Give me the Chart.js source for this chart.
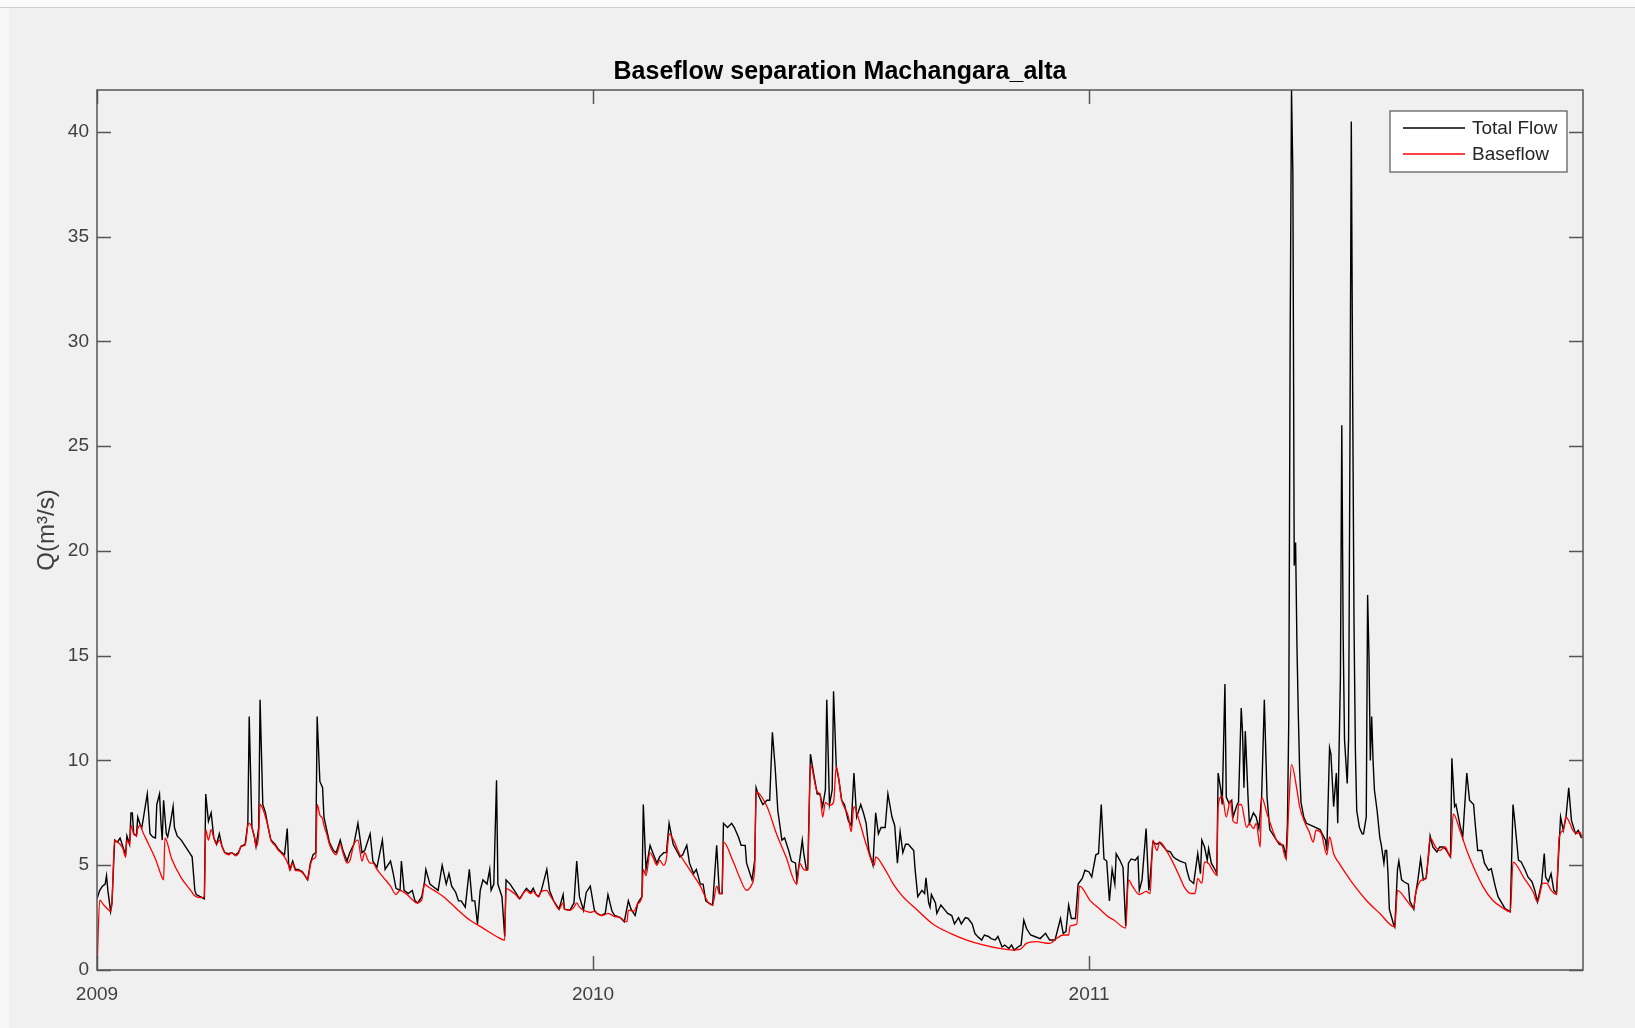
<!DOCTYPE html>
<html lang="en">

<head>
    <meta charset="UTF-8">
    <meta name="viewport" content="width=device-width, initial-scale=1.0">
    <title>Baseflow separation Machangara_alta</title>

    <!--Chart.js-->
    <script src="https://cdn.jsdelivr.net/npm/chart.js"></script>

    <style>
        body {
            margin: 0;
            background: #f0f0f0;
        }

        .topo {
            position: absolute;
            left: 0;
            top: 0;
            width: 1635px;
            height: 7px;
            background: #fafafa;
            border-bottom: 1px solid #cfcfcf;
        }

        .lado {
            position: absolute;
            left: 0;
            top: 8px;
            width: 9px;
            height: 1020px;
            background: #f7f7f7;
        }

        .grafico {
            position: absolute;
            left: 0;
            top: 0;
            width: 1635px;
            height: 1028px;
        }
    </style>
</head>

<body>

    <div class="topo"></div>
    <div class="lado"></div>

    <div class="grafico">
        <canvas id="myChart"></canvas>
    </div>

<script>

// days since 2009-01-01 and flow values
const totalDays = [0, 2, 4, 6, 7, 8, 10, 11, 13, 15, 17, 19, 21, 22, 24, 25, 26, 27, 29, 30, 32, 33, 35, 37, 38, 39, 41, 43, 44, 46, 47, 48, 49, 51, 52, 54, 56, 57, 59, 62, 65, 68, 70, 72, 73, 76, 79, 80, 82, 84, 86, 88, 90, 92, 94, 97, 99, 102, 104, 106, 109, 111, 112, 114, 116, 117, 119, 120, 122, 124, 126, 128, 131, 133, 136, 138, 140, 141, 142, 144, 146, 148, 151, 153, 155, 157, 159, 161, 162, 164, 166, 167, 169, 171, 174, 176, 179, 181, 184, 186, 189, 192, 195, 197, 201, 203, 206, 210, 212, 216, 218, 220, 223, 224, 226, 229, 232, 234, 236, 239, 241, 242, 245, 247, 251, 254, 257, 259, 261, 264, 266, 268, 271, 274, 276, 278, 280, 282, 284, 287, 289, 290, 292, 294, 295, 298, 300, 301, 304, 308, 311, 314, 316, 319, 321, 323, 325, 327, 331, 333, 336, 340, 343, 344, 348, 351, 353, 355, 358, 360, 363, 366, 368, 371, 374, 376, 379, 381, 385, 388, 391, 393, 396, 398, 401, 402, 404, 407, 409, 412, 414, 417, 419, 421, 424, 429, 431, 434, 436, 439, 441, 444, 446, 448, 450, 453, 456, 458, 460, 461, 464, 467, 469, 472, 474, 477, 478, 482, 484, 485, 487, 490, 493, 495, 497, 499, 501, 504, 506, 509, 511, 514, 515, 517, 519, 520, 522, 523, 525, 527, 530, 532, 534, 536, 537, 539, 541, 542, 544, 546, 548, 550, 553, 555, 557, 559, 562, 564, 566, 568, 571, 573, 575, 577, 580, 582, 585, 587, 589, 591, 593, 595, 597, 601, 602, 604, 607, 609, 610, 612, 613, 614, 617, 618, 621, 624, 626, 629, 631, 634, 636, 639, 641, 644, 646, 648, 651, 653, 656, 658, 661, 663, 666, 668, 671, 673, 675, 678, 680, 682, 684, 687, 690, 694, 698, 701, 705, 709, 711, 713, 715, 717, 720, 722, 725, 727, 730, 732, 735, 737, 739, 741, 743, 745, 747, 749, 750, 753, 755, 757, 759, 761, 764, 766, 767, 769, 772, 774, 775, 777, 780, 782, 785, 787, 790, 792, 794, 797, 801, 802, 804, 807, 809, 810, 812, 813, 815, 817, 818, 820, 823, 824, 825, 827, 828, 830, 831, 833, 835, 836, 839, 840, 842, 843, 844, 845, 847, 848, 851, 853, 855, 857, 859, 861, 863, 866, 868, 870, 873, 875, 876, 877, 878, 879, 880, 881, 882, 883, 884, 885, 886, 888, 890, 895, 900, 904, 905, 907, 908, 910, 912, 913, 915, 916, 917, 918, 920, 921, 922, 923, 924, 925, 926, 927, 929, 931, 932, 934, 935, 936, 937, 938, 939, 940, 942, 944, 945, 947, 948, 949, 950, 951, 954, 955, 957, 958, 960, 962, 965, 966, 969, 970, 972, 974, 976, 978, 980, 981, 983, 986, 988, 991, 993, 996, 997, 999, 1000, 1003, 1005, 1008, 1010, 1013, 1014, 1016, 1019, 1021, 1024, 1026, 1029, 1031, 1034, 1036, 1038, 1040, 1042, 1043, 1046, 1048, 1051, 1053, 1056, 1058, 1060, 1063, 1065, 1066, 1068, 1070, 1072, 1074, 1075, 1077, 1079, 1081, 1083, 1085, 1088, 1090, 1092, 1093];
const totalQ = [3.4, 3.8, 4.0, 4.1, 4.5, 3.8, 2.8, 3.2, 6.2, 6.1, 6.3, 5.9, 5.5, 6.4, 6.0, 7.5, 7.5, 6.5, 6.4, 7.3, 6.9, 6.8, 7.6, 8.4, 7.5, 6.5, 6.35, 6.3, 7.9, 8.4, 7.1, 6.2, 8.1, 6.5, 6.35, 7.0, 7.8, 6.8, 6.4, 6.2, 5.9, 5.6, 5.4, 3.8, 3.6, 3.5, 3.4, 8.4, 7.1, 7.5, 6.3, 6.0, 6.5, 5.9, 5.6, 5.55, 5.6, 5.5, 5.6, 5.9, 6.0, 7.0, 12.1, 6.8, 6.3, 5.9, 6.8, 12.9, 7.9, 7.5, 6.8, 6.2, 6.0, 5.8, 5.6, 5.5, 6.75, 5.1, 4.8, 5.2, 4.8, 4.8, 4.7, 4.5, 4.3, 5.1, 5.5, 5.6, 12.1, 9.0, 8.7, 7.3, 6.7, 6.1, 5.7, 5.6, 6.2, 5.7, 5.2, 5.6, 6.0, 7.0, 5.6, 5.7, 6.5, 5.2, 4.9, 6.2, 4.8, 5.2, 4.6, 3.9, 3.8, 5.2, 3.8, 3.65, 3.8, 3.3, 3.2, 3.5, 4.2, 4.8, 4.1, 4.0, 3.8, 5.0, 4.1, 4.6, 4.0, 3.7, 3.3, 3.3, 3.0, 4.8, 3.3, 3.3, 2.2, 3.8, 4.3, 4.1, 4.8, 3.8, 4.1, 9.05, 4.1, 3.5, 1.6, 4.3, 4.1, 3.7, 3.4, 3.7, 3.9, 3.7, 3.9, 3.6, 3.5, 3.8, 4.8, 3.8, 3.3, 2.9, 3.6, 2.9, 2.85, 3.2, 5.2, 3.5, 2.85, 3.7, 4.0, 2.85, 2.7, 2.6, 2.7, 3.6, 2.8, 2.6, 2.5, 2.3, 3.3, 2.9, 2.6, 3.2, 3.5, 7.9, 4.8, 5.95, 5.6, 5.1, 5.4, 5.6, 5.6, 7.0, 6.0, 5.4, 5.5, 5.95, 5.1, 4.6, 4.8, 4.1, 4.1, 3.3, 3.2, 3.1, 5.95, 3.65, 3.65, 7.0, 6.8, 7.0, 6.8, 6.35, 5.95, 5.95, 5.1, 4.3, 5.25, 8.7, 8.3, 7.9, 8.1, 8.1, 11.35, 9.7, 7.6, 6.2, 6.3, 5.7, 5.2, 5.1, 4.3, 5.2, 6.2, 5.6, 4.8, 4.8, 10.3, 9.5, 8.4, 8.4, 7.8, 8.6, 12.9, 7.9, 8.6, 13.3, 9.7, 9.05, 8.1, 7.9, 7.1, 6.9, 9.4, 7.3, 7.9, 7.5, 7.0, 5.7, 5.0, 7.5, 6.5, 6.8, 6.8, 8.4, 7.3, 6.9, 5.1, 6.6, 5.6, 6.0, 6.0, 5.7, 4.8, 3.5, 3.8, 3.65, 4.4, 3.2, 3.0, 3.6, 3.2, 2.7, 3.1, 2.86, 2.7, 2.6, 2.2, 2.5, 2.2, 2.5, 2.46, 2.2, 1.75, 1.6, 1.43, 1.67, 1.6, 1.5, 1.43, 1.6, 1.1, 1.19, 1.03, 1.19, 0.95, 1.11, 1.19, 2.38, 1.98, 1.67, 1.6, 1.5, 1.75, 1.43, 1.43, 2.46, 1.75, 1.83, 3.1, 2.46, 2.46, 4.1, 4.37, 4.76, 4.68, 4.44, 5.5, 5.56, 7.9, 5.3, 5.2, 3.3, 4.8, 4.1, 5.55, 5.2, 4.9, 2.1, 5.1, 5.3, 5.24, 5.4, 3.8, 4.3, 6.75, 3.8, 4.4, 6.1, 6.0, 6.1, 5.87, 5.71, 5.63, 5.4, 5.3, 5.2, 5.1, 4.76, 4.3, 4.13, 5.08, 5.56, 4.6, 6.2, 5.87, 5.24, 5.79, 5.1, 4.76, 4.6, 9.4, 8.6, 7.9, 13.65, 8.25, 7.95, 8.1, 7.3, 7.9, 8.0, 12.5, 11.3, 8.7, 11.4, 8.25, 7.0, 7.5, 7.3, 6.75, 8.25, 12.9, 8.25, 6.7, 6.4, 6.2, 6.0, 5.95, 5.4, 7.0, 12.0, 30.0, 42, 38.0, 19.3, 20.4, 15.5, 12.2, 9.5, 8.0, 7.3, 7.0, 6.85, 6.7, 6.2, 5.7, 10.6, 10.3, 7.8, 9.4, 7.0, 14, 26, 16, 11, 8.9, 11, 25, 40.5, 27.5, 16.5, 10.5, 7.6, 6.8, 6.5, 6.5, 7.3, 17.9, 15, 10, 12.1, 10, 8.6, 7.6, 6.3, 6.0, 5.1, 5.7, 5.7, 4.6, 2.9, 2.2, 2.06, 4.8, 5.2, 4.3, 4.2, 4.1, 3.3, 2.9, 3.5, 4.3, 5.3, 4.3, 4.4, 5.55, 6.4, 5.87, 5.63, 5.87, 5.87, 5.71, 5.4, 10.1, 7.8, 7.9, 6.9, 6.35, 9.4, 8.1, 7.9, 7.1, 5.7, 5.7, 5.1, 4.76, 4.84, 3.97, 3.5, 3.17, 2.94, 2.86, 2.78, 7.9, 7.3, 5.24, 5.16, 4.76, 4.44, 4.21, 3.81, 3.25, 4.13, 5.56, 4.44, 4.21, 4.6, 3.81, 3.65, 4.84, 7.3, 6.67, 7.3, 8.7, 7.14, 6.51, 6.67, 6.35, 6.3];

const baseDays = [0, 2, 5, 8, 10, 11, 13, 15, 17, 19, 21, 22, 24, 25, 27, 29, 30, 32, 33, 38, 43, 48, 49, 50, 55, 62, 70, 71, 73, 76, 79, 80, 82, 84, 86, 88, 90, 92, 94, 97, 99, 102, 104, 106, 109, 111, 112, 114, 116, 117, 119, 120, 122, 124, 126, 128, 131, 133, 136, 138, 141, 142, 144, 146, 148, 151, 153, 155, 157, 159, 161, 162, 164, 166, 167, 169, 171, 174, 176, 179, 181, 184, 186, 189, 192, 195, 197, 199, 201, 203, 206, 211, 216, 220, 223, 228, 233, 235, 239, 241, 243, 248, 255, 265, 274, 284, 294, 300, 301, 304, 308, 311, 314, 316, 319, 321, 323, 325, 327, 331, 333, 336, 340, 343, 344, 348, 351, 353, 355, 358, 360, 363, 366, 368, 371, 374, 376, 381, 385, 388, 390, 391, 395, 398, 401, 402, 404, 407, 409, 412, 414, 417, 419, 421, 429, 436, 444, 450, 453, 456, 458, 460, 461, 468, 473, 478, 482, 484, 485, 493, 500, 507, 515, 517, 520, 523, 525, 530, 532, 534, 536, 539, 542, 544, 548, 553, 555, 557, 561, 566, 572, 573, 579, 586, 593, 603, 615, 628, 640, 652, 664, 674, 679, 684, 691, 701, 706, 711, 715, 716, 721, 723, 731, 738, 745, 748, 757, 759, 762, 767, 772, 775, 777, 780, 782, 787, 792, 797, 800, 805, 808, 810, 813, 815, 818, 821, 824, 825, 828, 831, 834, 836, 839, 840, 842, 846, 848, 851, 853, 856, 857, 861, 866, 868, 872, 875, 877, 879, 883, 885, 889, 892, 895, 897, 901, 905, 907, 910, 914, 919, 924, 934, 944, 955, 957, 964, 969, 970, 975, 978, 981, 985, 988, 992, 996, 998, 1003, 1008, 1013, 1020, 1027, 1035, 1040, 1042, 1050, 1057, 1060, 1064, 1067, 1070, 1074, 1076, 1079, 1081, 1084, 1086, 1089, 1091, 1093];
const baseQ = [0, 3.33, 3.1, 2.9, 2.8, 3.2, 6.2, 6.1, 6.0, 5.8, 5.4, 6.2, 6.0, 6.9, 6.5, 6.4, 6.75, 6.9, 6.7, 6.0, 5.3, 4.4, 4.3, 6.3, 5.3, 4.4, 3.7, 3.6, 3.5, 3.45, 3.5, 6.7, 6.2, 6.7, 6.3, 6.0, 6.2, 5.9, 5.6, 5.5, 5.6, 5.45, 5.55, 5.9, 5.95, 6.9, 7.0, 6.8, 6.3, 5.9, 6.5, 7.9, 7.7, 7.3, 6.8, 6.2, 5.95, 5.75, 5.55, 5.4, 5.0, 4.75, 5.1, 4.75, 4.75, 4.65, 4.5, 4.3, 5.0, 5.3, 5.4, 7.9, 7.4, 7.2, 6.9, 6.5, 6.0, 5.6, 5.5, 6.0, 5.6, 5.1, 5.2, 6.0, 6.2, 5.2, 5.6, 5.3, 5.1, 5.1, 4.8, 4.4, 4.0, 3.6, 3.8, 3.6, 3.3, 3.2, 3.35, 4.1, 4.0, 3.8, 3.5, 2.9, 2.4, 2.0, 1.6, 1.43, 3.9, 3.8, 3.6, 3.4, 3.7, 3.8, 3.65, 3.75, 3.6, 3.5, 3.75, 3.8, 3.6, 3.3, 2.9, 3.2, 2.9, 2.85, 3.0, 3.2, 3.0, 2.85, 2.8, 2.75, 2.8, 2.7, 2.6, 2.65, 2.7, 2.55, 2.5, 2.35, 2.3, 2.86, 2.8, 3.17, 3.5, 4.8, 4.5, 5.6, 5.4, 5.0, 5.24, 5.0, 5.3, 6.5, 5.5, 4.8, 4.0, 3.2, 3.1, 4.0, 3.65, 3.65, 6.1, 5.2, 4.4, 3.8, 4.1, 4.9, 8.5, 7.8, 6.5, 5.4, 4.1, 5.1, 4.8, 4.76, 9.8, 8.5, 8.4, 7.3, 8.0, 7.86, 8.0, 9.7, 8.1, 7.3, 6.6, 7.8, 7.1, 6.0, 5.0, 5.4, 4.9, 4.1, 3.5, 2.9, 2.2, 1.75, 1.43, 1.2, 1.03, 0.95, 0.98, 1.27, 1.35, 1.27, 1.5, 1.67, 1.67, 2.1, 2.2, 4.0, 3.3, 2.9, 2.5, 2.4, 2.0, 4.3, 4.0, 3.6, 3.75, 3.65, 6.2, 5.7, 6.1, 5.7, 5.1, 4.4, 3.97, 3.65, 3.65, 4.37, 4.13, 5.16, 5.08, 4.76, 4.52, 7.8, 8.3, 7.3, 8.1, 7.1, 7.0, 7.9, 7.9, 6.8, 7.0, 6.75, 7.0, 5.87, 8.25, 7.46, 6.51, 6.19, 5.95, 5.3, 7.8, 9.8, 8.6, 7.8, 7.0, 6.6, 6.1, 6.67, 6.5, 5.5, 6.35, 5.55, 5.1, 4.6, 4.13, 3.33, 2.7, 2.06, 3.8, 3.3, 2.94, 3.5, 4.3, 4.37, 6.3, 5.87, 5.7, 5.87, 5.4, 7.45, 6.65, 5.7, 4.9, 3.97, 3.33, 2.94, 2.78, 5.15, 4.4, 3.7, 3.25, 4.15, 4.13, 3.81, 3.6, 6.35, 6.67, 7.3, 6.98, 6.67, 6.51, 6.59, 6.3];

// tick positions and labels
const yearTickDays = [0, 365, 730];
const yearLabels = ['2009', '2010', '2011'];
const yTicks = [0, 5, 10, 15, 20, 25, 30, 35, 40];

const fonte = "'Liberation Sans', Arial, Helvetica, sans-serif";
const corEixo = '#555555';
const corTexto = '#404040';

// box around the axes with inward ticks on all four sides (MATLAB look)
const moldura = {
    id: 'moldura',
    afterDatasetsDraw(chart) {
        const ctx = chart.ctx;
        const a = chart.chartArea;
        const x = chart.scales.x;
        const y = chart.scales.y;
        const tam = 14;

        ctx.save();
        ctx.strokeStyle = corEixo;
        ctx.lineWidth = 1.5;
        ctx.strokeRect(a.left, a.top, a.right - a.left, a.bottom - a.top);

        ctx.beginPath();
        yTicks.forEach(function (v) {
            const py = Math.round(y.getPixelForValue(v)) + 0.5;
            ctx.moveTo(a.left, py);
            ctx.lineTo(a.left + tam, py);
            ctx.moveTo(a.right, py);
            ctx.lineTo(a.right - tam, py);
        });
        yearTickDays.forEach(function (d) {
            const px = Math.round(x.getPixelForValue(d)) + 0.5;
            ctx.moveTo(px, a.bottom);
            ctx.lineTo(px, a.bottom - tam);
            ctx.moveTo(px, a.top);
            ctx.lineTo(px, a.top + tam);
        });
        ctx.stroke();
        ctx.restore();
    }
};

// legend box in the upper right corner of the axes
const legenda = {
    id: 'legenda',
    afterDraw(chart) {
        const ctx = chart.ctx;
        const a = chart.chartArea;
        const x0 = a.right - 193;
        const y0 = a.top + 21;

        ctx.save();
        ctx.fillStyle = '#ffffff';
        ctx.fillRect(x0, y0, 177, 61);
        ctx.strokeStyle = '#555555';
        ctx.lineWidth = 1.2;
        ctx.strokeRect(x0, y0, 177, 61);

        ctx.font = '19px ' + fonte;
        ctx.textBaseline = 'middle';
        chart.data.datasets.forEach(function (ds, i) {
            const ly = y0 + 17 + i * 26;
            ctx.strokeStyle = ds.borderColor;
            ctx.lineWidth = 1.3;
            ctx.beginPath();
            ctx.moveTo(x0 + 13, ly);
            ctx.lineTo(x0 + 75, ly);
            ctx.stroke();
            ctx.fillStyle = '#262626';
            ctx.fillText(ds.label, x0 + 82, ly + 1);
        });
        ctx.restore();
    }
};

const dados = {
    datasets: [{
        label: 'Total Flow',
        data: totalDays.map(function (d, i) { return { x: d, y: totalQ[i] }; }),
        borderColor: '#000000',
        borderWidth: 1.4,
        pointRadius: 0,
        tension: 0,
        order: 2
    }, {
        label: 'Baseflow',
        data: baseDays.map(function (d, i) { return { x: d, y: baseQ[i] }; }),
        borderColor: '#ff0000',
        borderWidth: 1.3,
        pointRadius: 0,
        cubicInterpolationMode: 'monotone',
        order: 1
    }]
};

const config = {
    type: 'line',
    data: dados,
    plugins: [moldura, legenda],
    options: {
        responsive: true,
        maintainAspectRatio: false,
        animation: false,
        layout: { padding: { left: 0, right: 52, top: 0, bottom: 0 } },
        plugins: {
            legend: { display: false },
            tooltip: { enabled: false },
            title: {
                display: true,
                text: 'Baseflow separation Machangara_alta',
                fullSize: false,
                color: '#000000',
                font: { family: fonte, size: 25, weight: 'bold' },
                padding: { top: 57, bottom: 3 }
            }
        },
        scales: {
            x: {
                type: 'linear',
                min: 0,
                max: 1093.5,
                grid: { display: false, drawTicks: false },
                border: { display: false },
                afterBuildTicks: function (s) { s.ticks = yearTickDays.map(function (v) { return { value: v }; }); },
                afterFit: function (s) { s.height = 58; },
                ticks: {
                    color: corTexto,
                    padding: 13,
                    maxRotation: 0,
                    font: { family: fonte, size: 19 },
                    callback: function (v) { return yearLabels[yearTickDays.indexOf(v)]; }
                }
            },
            y: {
                min: 0,
                max: 42,
                grid: { display: false, drawTicks: false },
                border: { display: false },
                afterBuildTicks: function (s) { s.ticks = yTicks.map(function (v) { return { value: v }; }); },
                afterFit: function (s) { s.width = 97; },
                ticks: {
                    color: corTexto,
                    padding: 8,
                    font: { family: fonte, size: 19 }
                },
                title: {
                    display: true,
                    text: 'Q(m³/s)',
                    color: corTexto,
                    font: { family: fonte, size: 24 },
                    padding: { top: 32.6, bottom: 0 }
                }
            }
        }
    }
};

let myChart = new Chart(document.getElementById('myChart'), config);

</script>
</body>

</html>
